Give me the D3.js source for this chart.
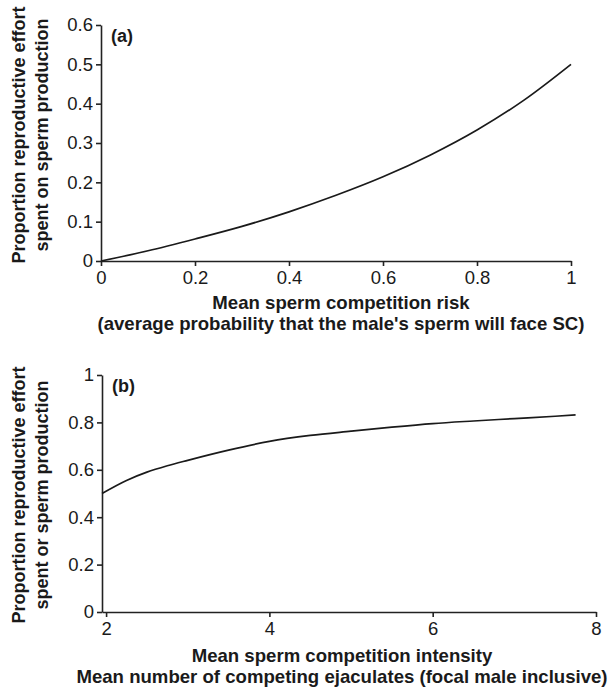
<!DOCTYPE html>
<html>
<head>
<meta charset="utf-8">
<script src="https://cdn.jsdelivr.net/npm/d3@7"></script>
<style>
  body { margin: 0; background: #fff; }
  text { font-family: "Liberation Sans", Arial, sans-serif; fill: #1a1a1a; }
  .tick text { font-size: 18.5px; }
  .axisTitle { font-size: 18px; font-weight: bold; }
  .xTitle { font-size: 18.6px; }
  .domain, .tick line { stroke: #222; stroke-width: 1.6; }
</style>
</head>
<body>
<div class="chart"></div>
<script>
// panel (a): sperm competition risk
var riskX = [0, 0.1, 0.2, 0.3, 0.4, 0.5, 0.6, 0.7, 0.8, 0.9, 1];
var riskY = [0, 0.026, 0.056, 0.088, 0.125, 0.167, 0.214, 0.269, 0.333, 0.409, 0.5];
var riskXTicks = [0, 0.2, 0.4, 0.6, 0.8, 1];
var riskYTicks = [0, 0.1, 0.2, 0.3, 0.4, 0.5, 0.6];

// panel (b): sperm competition intensity
var intensityX = [1.95, 2.25, 2.5, 2.75, 3, 3.5, 4, 4.5, 5, 5.5, 6, 6.5, 7, 7.5, 7.75];
var intensityY = [0.5, 0.555, 0.59, 0.617, 0.64, 0.683, 0.72, 0.745, 0.763, 0.78, 0.795, 0.806, 0.816, 0.826, 0.832];
var intensityXTicks = [2, 4, 6, 8];
var intensityYTicks = [0, 0.2, 0.4, 0.6, 0.8, 1];

var svg = d3.select(".chart")
    .append("svg")
    .attr("width", 612).attr("height", 687);

function drawPanel(opt) {
    var x = d3.scaleLinear().domain(opt.xDomain).range([opt.left, opt.right]);
    var y = d3.scaleLinear().domain(opt.yDomain).range([opt.bottom, opt.top]);

    var xAxis = d3.axisBottom(x).tickValues(opt.xTicks)
        .tickSize(5).tickSizeOuter(0).tickPadding(5)
        .tickFormat(d3.format("~g"));
    var yAxis = d3.axisLeft(y).tickValues(opt.yTicks)
        .tickSize(5).tickSizeOuter(0).tickPadding(3)
        .tickFormat(d3.format("~g"));

    svg.append("g")
        .attr("transform", `translate(0, ${opt.bottom})`)
        .call(xAxis)
        .call(g => g.selectAll(".tick text").attr("dy", opt.xLabelDy));

    svg.append("g")
        .attr("transform", `translate(${opt.left}, 0)`)
        .call(yAxis);

    var line = d3.line()
        .x((d, i) => x(opt.xs[i]))
        .y(d => y(d))
        .curve(d3.curveMonotoneX);

    svg.append("path")
        .datum(opt.ys)
        .attr("d", line)
        .attr("fill", "none")
        .attr("stroke", "#1a1a1a")
        .attr("stroke-width", 1.7);

    svg.append("text")
        .attr("x", opt.left + 10)
        .attr("y", opt.top + 17)
        .attr("class", "axisTitle")
        .text(opt.tag);

    // y title, two lines rotated
    var yMid = opt.yTitleMid;
    opt.yTitle.forEach(function(t, i) {
        svg.append("text")
            .attr("transform", `translate(${25 + i * 23}, ${yMid}) rotate(-90)`)
            .attr("text-anchor", "middle")
            .attr("class", "axisTitle")
            .text(t);
    });

    opt.xTitle.forEach(function(t, i) {
        svg.append("text")
            .attr("x", opt.xTitleMid)
            .attr("y", opt.xTitleY + i * 21)
            .attr("text-anchor", "middle")
            .attr("class", "axisTitle xTitle")
            .text(t);
    });
}

drawPanel({
    xs: riskX, ys: riskY,
    xDomain: [0, 1], yDomain: [0, 0.6],
    xTicks: riskXTicks, yTicks: riskYTicks,
    left: 101, right: 571, top: 25, bottom: 261,
    xLabelDy: "0.71em",
    tag: "(a)",
    yTitle: ["Proportion reproductive effort", "spent on sperm production"],
    yTitleMid: 135,
    xTitle: ["Mean sperm competition risk", "(average probability that the male's sperm will face SC)"],
    xTitleMid: 341, xTitleY: 309
});

drawPanel({
    xs: intensityX, ys: intensityY,
    xDomain: [1.95, 8], yDomain: [0, 1],
    xTicks: intensityXTicks, yTicks: intensityYTicks,
    left: 102, right: 596, top: 375, bottom: 612,
    xLabelDy: "0.71em",
    tag: "(b)",
    yTitle: ["Proportion reproductive effort", "spent or sperm production"],
    yTitleMid: 495,
    xTitle: ["Mean sperm competition intensity", "Mean number of competing ejaculates (focal male inclusive)"],
    xTitleMid: 342, xTitleY: 662
});
</script>
</body>
</html>
